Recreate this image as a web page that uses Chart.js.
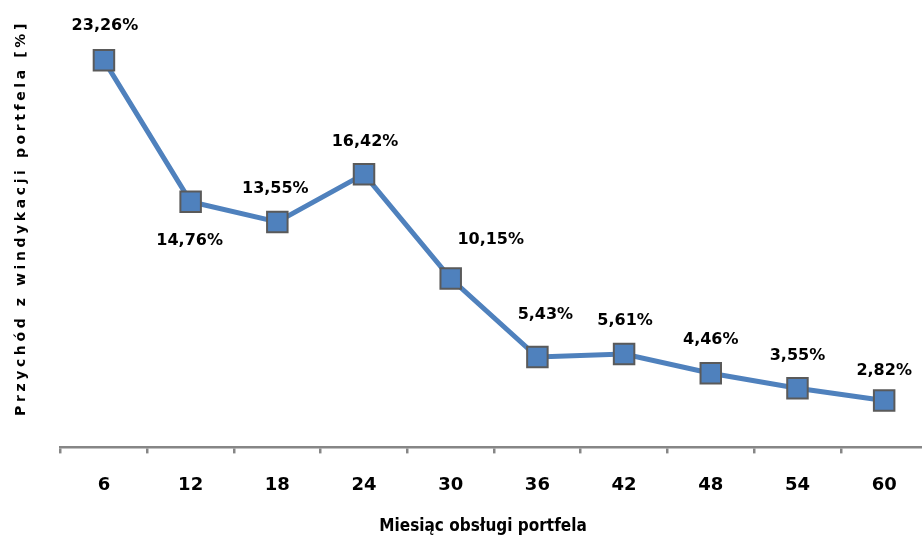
<!DOCTYPE html>
<html>
<head>
<meta charset="utf-8">
<script src="https://cdn.jsdelivr.net/npm/chart.js@4.4.1/dist/chart.umd.min.js"></script>
<style>
  html, body { margin: 0; padding: 0; background: #fff; overflow: hidden; }
  #chart { display: block; width: 944px; height: 538px; }
</style>
</head>
<body>
<canvas id="chart" width="944" height="538"></canvas>
<script>
// Month of portfolio servicing
const months = ['6', '12', '18', '24', '30', '36', '42', '48', '54', '60'];
// Recovery revenue share [%]
const revenuePct = [23.26, 14.76, 13.55, 16.42, 10.15, 5.43, 5.61, 4.46, 3.55, 2.82];

const yTitle = 'Przychód z windykacji portfela [%]';
const xTitle = 'Miesiąc obsługi portfela';

// Label placement relative to each marker (pixels)
const labelOffsets = [
  [1, -35], [-1, 39], [-2, -33], [1, -32], [40, -39],
  [8, -42], [1, -33], [0, -33], [0, -32], [0, -30]
];

const fmt = v => v.toFixed(2).replace('.', ',') + '%';

const valueLabels = {
  id: 'valueLabels',
  afterDatasetsDraw(chart) {
    const ctx = chart.ctx;
    const pts = chart.getDatasetMeta(0).data;
    const vals = chart.data.datasets[0].data;
    ctx.save();
    ctx.font = 'bold 16px "DejaVu Sans", sans-serif';
    ctx.fillStyle = '#000';
    ctx.textAlign = 'center';
    ctx.textBaseline = 'middle';
    pts.forEach((p, i) => {
      const o = labelOffsets[i];
      ctx.fillText(fmt(vals[i]), p.x + o[0], p.y + o[1]);
    });
    ctx.restore();
  }
};

// Axis titles: spaced vertical title on the left, narrow title under the month axis
const axisTitles = {
  id: 'axisTitles',
  afterDraw(chart) {
    const ctx = chart.ctx;
    ctx.save();
    ctx.fillStyle = '#000';
    ctx.textAlign = 'center';
    ctx.textBaseline = 'middle';

    ctx.font = 'bold 17px "Liberation Sans Narrow", "DejaVu Sans Condensed", sans-serif';
    ctx.fillText(xTitle, 483, 527);

    ctx.translate(21, 218);
    ctx.rotate(-Math.PI / 2);
    ctx.font = 'bold 14px "DejaVu Sans", sans-serif';
    ctx.letterSpacing = '3.6px';
    ctx.fillText(yTitle, 0, 0);
    ctx.restore();
  }
};

new Chart(document.getElementById('chart'), {
  type: 'line',
  data: {
    labels: months,
    datasets: [{
      data: revenuePct,
      borderColor: '#4f81bd',
      borderWidth: 5,
      backgroundColor: '#4f81bd',
      pointStyle: 'rect',
      pointRadius: 14.5,
      pointBorderWidth: 2,
      pointBorderColor: '#5a5a5a',
      pointBackgroundColor: '#4f81bd',
      tension: 0,
      fill: false
    }]
  },
  options: {
    responsive: false,
    animation: false,
    layout: { padding: { left: 60.6, top: 31.4, right: 3, bottom: 21 } },
    plugins: { legend: { display: false }, tooltip: { enabled: false } },
    scales: {
      y: { display: false, min: 0, max: 25 },
      x: {
        offset: true,
        border: { display: true, color: '#868686', width: 2.5 },
        grid: {
          offset: true,
          drawOnChartArea: false,
          drawTicks: true,
          tickLength: 6,
          color: '#868686',
          lineWidth: 2.5
        },
        ticks: {
          color: '#000',
          padding: 21,
          maxRotation: 0,
          font: { family: '"DejaVu Sans", sans-serif', size: 18, weight: 'bold' }
        }
      }
    }
  },
  plugins: [valueLabels, axisTitles]
});
</script>
</body>
</html>
